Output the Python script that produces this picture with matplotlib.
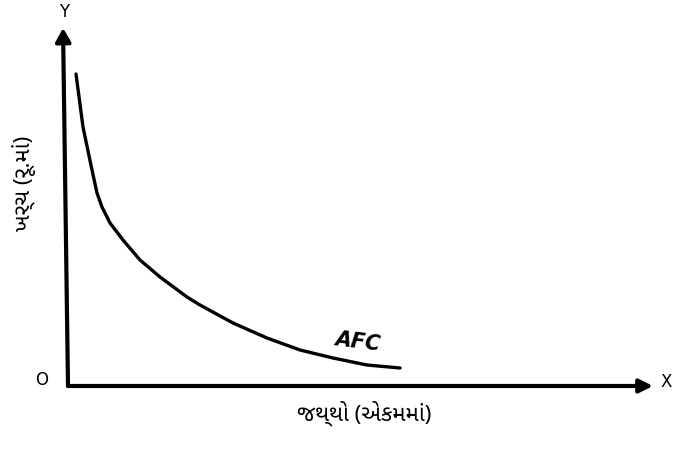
import matplotlib
matplotlib.use("Agg")
import matplotlib.pyplot as plt

# Average fixed cost curve: quantity vs AFC (arbitrary units)
quantity = [8, 15, 24, 29, 34, 42, 55, 72, 92, 119, 132, 165, 199, 232, 265, 299, 332]
afc = [312, 259, 216, 193, 179, 163, 146, 126, 109, 89, 81, 63, 48, 36, 28, 21, 18]

x_label = "જથ્થો (એકમમાં)"
y_label = "ખર્ચ (રૂ.માં)"
curve_label = "AFC"

plt.rcParams['font.family'] = ['Noto Sans Gujarati', 'Lohit Gujarati', 'DejaVu Sans']

fig = plt.figure(figsize=(6.73, 4.49), dpi=100)
ax = fig.add_axes([68 / 673, 63 / 449, 585 / 673, 358 / 449])
ax.set_xlim(0, 585)
ax.set_ylim(0, 358)
ax.axis('off')

ax.plot(quantity, afc, color='black', linewidth=2.4,
        solid_capstyle='round', solid_joinstyle='round')

# axes drawn as arrows
ax.annotate('', xy=(1.0, 0), xytext=(0, 0), xycoords='axes fraction',
            arrowprops=dict(arrowstyle='-|>,head_length=0.8,head_width=0.4',
                            color='black', lw=3, shrinkA=0, shrinkB=0))
ax.annotate('', xy=(-0.0085, 1.0), xytext=(0, 0), xycoords='axes fraction',
            arrowprops=dict(arrowstyle='-|>,head_length=0.8,head_width=0.45',
                            color='black', lw=3, shrinkA=0, shrinkB=0))

fig.text(42 / 673, 1 - 380 / 449, 'O', fontsize=12, ha='center', va='center',
         family='DejaVu Sans')
fig.text(64 / 673, 1 - 12 / 449, 'Y', fontsize=12, ha='center', va='center',
         family='DejaVu Sans')
fig.text(666 / 673, 1 - 382 / 449, 'X', fontsize=12, ha='center', va='center',
         family='DejaVu Sans')
fig.text(358 / 673, 1 - 342 / 449, curve_label, fontsize=15, ha='center',
         va='center', style='italic', weight='bold', rotation=-7,
         family='DejaVu Sans')

fig.text(364 / 673, 1 - 413 / 449, x_label, fontsize=16, ha='center', va='center')
fig.text(24 / 673, 1 - 183 / 449, y_label, fontsize=16, ha='center', va='center',
         rotation=90)

fig.savefig('out.png', dpi=100, facecolor='white')
